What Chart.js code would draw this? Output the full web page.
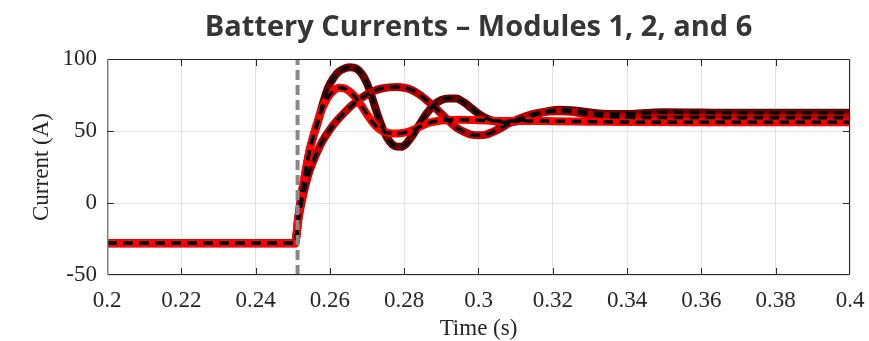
<!DOCTYPE html>
<html>
<head>
<meta charset="utf-8">
<script src="https://cdn.jsdelivr.net/npm/chart.js@4/dist/chart.umd.min.js"></script>
<style>
  html, body { margin: 0; padding: 0; background: #fff; }
  #wrap { width: 869px; height: 341px; }
</style>
</head>
<body>
<div id="wrap"><canvas id="chart" width="869" height="341"></canvas></div>
<script>
// Module 1 (largest overshoot)
const t1 = [0.2, 0.2506, 0.2515, 0.2525, 0.2535, 0.2545, 0.2555, 0.2565, 0.258, 0.2595, 0.261, 0.2625, 0.264, 0.2655,
  0.267, 0.2685, 0.27, 0.2715, 0.273, 0.2745, 0.276, 0.2775, 0.279, 0.2805, 0.282, 0.284, 0.286, 0.288, 0.29, 0.292,
  0.294, 0.296, 0.298, 0.3, 0.302, 0.304, 0.306, 0.308, 0.31, 0.313, 0.316, 0.319, 0.322, 0.325, 0.328, 0.331, 0.335,
  0.34, 0.345, 0.35, 0.36, 0.37, 0.38, 0.39, 0.4];
const i1 = [-28, -28, -10, 8, 22, 36, 46, 54, 68, 80, 87, 91.5, 93.5, 94.3,
  93.5, 90, 83, 72, 60, 50, 43, 39.5, 39, 41, 46, 54, 62, 68, 71.5, 72.5,
  72.5, 70, 66, 62, 59, 57, 56, 56, 56.5, 59, 62, 64, 64.8, 64.5, 63.5, 62.5, 61.8,
  61.8, 62.5, 63, 62.8, 62.6, 62.7, 62.7, 62.7];

// Module 2 (slow response)
const t2 = [0.2, 0.2506, 0.2515, 0.2525, 0.2535, 0.2545, 0.256, 0.258, 0.26, 0.262, 0.264, 0.266, 0.268, 0.27,
  0.272, 0.274, 0.276, 0.278, 0.28, 0.282, 0.284, 0.286, 0.288, 0.29, 0.292, 0.294, 0.296, 0.298, 0.3, 0.302,
  0.304, 0.306, 0.308, 0.31, 0.313, 0.316, 0.319, 0.322, 0.325, 0.328, 0.331, 0.335, 0.34, 0.35, 0.36, 0.38, 0.4];
const i2 = [-28, -28, -12, 2, 13, 22, 32, 43, 51, 57.5, 63, 68, 72, 75.5,
  78, 79.5, 80.3, 80.5, 80, 78.5, 75.5, 71.5, 67, 62, 57, 52.5, 49.5, 47.5, 47, 47.5,
  49.5, 52, 55, 57.5, 60.5, 62.5, 63.5, 63.8, 63.3, 62, 61, 60, 59.5, 59.3, 59.3, 59.2, 59.2];

// Module 6 (medium overshoot)
const t6 = [0.2, 0.2506, 0.2515, 0.2525, 0.2535, 0.2545, 0.2555, 0.2565, 0.258, 0.2595, 0.261, 0.2625, 0.264, 0.2655,
  0.267, 0.2685, 0.27, 0.2715, 0.273, 0.2745, 0.276, 0.2775, 0.279, 0.281, 0.283, 0.285, 0.287, 0.289, 0.291, 0.295,
  0.3, 0.305, 0.31, 0.315, 0.32, 0.33, 0.34, 0.36, 0.38, 0.4];
const i6 = [-28, -28, -10, 8, 23, 36, 46, 55, 66, 73.5, 78, 80, 79.5, 77,
  73, 67.5, 61.5, 56, 52, 49.5, 48.5, 48.3, 48.5, 49.5, 51.5, 54, 56, 57, 57.5, 57.8,
  57.5, 57, 57, 57, 56.8, 56.5, 56.2, 56, 56, 56];

// Fault instant marker
const tFault = [0.2513, 0.2513];
const iFault = [-50, 100];

const xTicks = [0.2, 0.22, 0.24, 0.26, 0.28, 0.3, 0.32, 0.34, 0.36, 0.38, 0.4];
const xTickLabels = ['0.2', '0.22', '0.24', '0.26', '0.28', '0.3', '0.32', '0.34', '0.36', '0.38', '0.4'];
const yTicks = [-50, 0, 50, 100];
const yTickLabels = ['-50', '0', '50', '100'];

const pts = (ts, vs) => ts.map((t, k) => ({ x: t, y: vs[k] }));

function redLine(ts, vs, color, order) {
  return { data: pts(ts, vs), borderColor: color, borderWidth: 8, pointRadius: 0,
    cubicInterpolationMode: 'monotone', order: order };
}
function blackDash(ts, vs, order) {
  return { data: pts(ts, vs), borderColor: '#000', borderWidth: 3.5, borderDash: [10, 6],
    pointRadius: 0, cubicInterpolationMode: 'monotone', order: order };
}

// box around plot area and inward tick marks (MATLAB style)
const frame = {
  id: 'frame',
  afterDraw(chart) {
    const { ctx, chartArea: a, scales: { x, y } } = chart;
    ctx.save();
    ctx.lineWidth = 1;
    ctx.strokeStyle = '#262626';
    ctx.beginPath();
    ctx.moveTo(a.left, a.top + 0.5); ctx.lineTo(a.right - 0.5, a.top + 0.5);
    ctx.lineTo(a.right - 0.5, a.bottom - 0.5); ctx.lineTo(a.left, a.bottom - 0.5);
    ctx.stroke();
    ctx.strokeStyle = '#808080';
    ctx.lineWidth = 1.5;
    ctx.beginPath();
    ctx.moveTo(a.left + 0.75, a.top); ctx.lineTo(a.left + 0.75, a.bottom);
    ctx.stroke();
    ctx.strokeStyle = '#262626';
    ctx.lineWidth = 1;
    ctx.beginPath();
    xTicks.slice(1, -1).forEach(v => {
      const px = Math.round(x.getPixelForValue(v)) + 0.5;
      ctx.moveTo(px, a.bottom); ctx.lineTo(px, a.bottom - 7);
      ctx.moveTo(px, a.top); ctx.lineTo(px, a.top + 7);
    });
    yTicks.slice(1, -1).forEach(v => {
      const py = Math.round(y.getPixelForValue(v)) + 0.5;
      ctx.moveTo(a.left, py); ctx.lineTo(a.left + 7, py);
      ctx.moveTo(a.right, py); ctx.lineTo(a.right - 7, py);
    });
    ctx.stroke();
    ctx.restore();
  }
};

const serif = 'Liberation Serif';

new Chart(document.getElementById('chart'), {
  type: 'line',
  data: {
    datasets: [
      { data: pts(tFault, iFault), borderColor: '#888', borderWidth: 4, borderDash: [10, 5],
        pointRadius: 0, order: 0 },
      blackDash(t1, i1, 1),
      blackDash(t2, i2, 1),
      blackDash(t6, i6, 1),
      redLine(t6, i6, '#ff0000', 2),
      redLine(t2, i2, '#c00000', 2),
      redLine(t1, i1, '#6e0000', 2)
    ]
  },
  options: {
    responsive: false,
    animation: false,
    layout: { padding: { left: 0, right: 19, top: 0, bottom: 0 } },
    plugins: {
      legend: { display: false },
      tooltip: { enabled: false },
      title: {
        display: true,
        text: 'Battery Currents – Modules 1, 2, and 6',
        fullSize: false,
        color: '#363636',
        font: { family: 'Open Sans', size: 29, weight: 'bold', lineHeight: 1.2 },
        padding: { top: 10, bottom: 14.2 }
      }
    },
    scales: {
      x: {
        type: 'linear',
        min: 0.2, max: 0.4,
        afterBuildTicks: s => { s.ticks = xTicks.map(v => ({ value: v })); },
        afterFit: s => { s.height = 66; s.paddingLeft = 0; s.paddingRight = 0; },
        ticks: {
          autoSkip: false, maxRotation: 0, padding: 12,
          color: '#262626',
          font: { family: serif, size: 23 },
          callback: (v, k) => xTickLabels[k]
        },
        grid: { color: '#e2e2e2', lineWidth: 1, drawTicks: false },
        border: { display: false },
        title: {
          display: true, text: 'Time (s)', color: '#262626',
          font: { family: serif, size: 23, lineHeight: 1.05 },
          padding: { top: 0, bottom: 0 }
        }
      },
      y: {
        min: -50, max: 100,
        afterBuildTicks: s => { s.ticks = yTicks.map(v => ({ value: v })); },
        afterFit: s => { s.width = 107; s.paddingTop = 0; s.paddingBottom = 0; },
        ticks: {
          padding: 10,
          color: '#262626',
          font: { family: serif, size: 23 },
          callback: (v, k) => yTickLabels[k]
        },
        grid: { color: '#e2e2e2', lineWidth: 1, drawTicks: false },
        border: { display: false },
        title: {
          display: true, text: 'Current (A)', color: '#262626',
          font: { family: serif, size: 23, lineHeight: 1.2 },
          padding: { top: 28, bottom: 0 }
        }
      }
    }
  },
  plugins: [frame]
});
</script>
</body>
</html>
